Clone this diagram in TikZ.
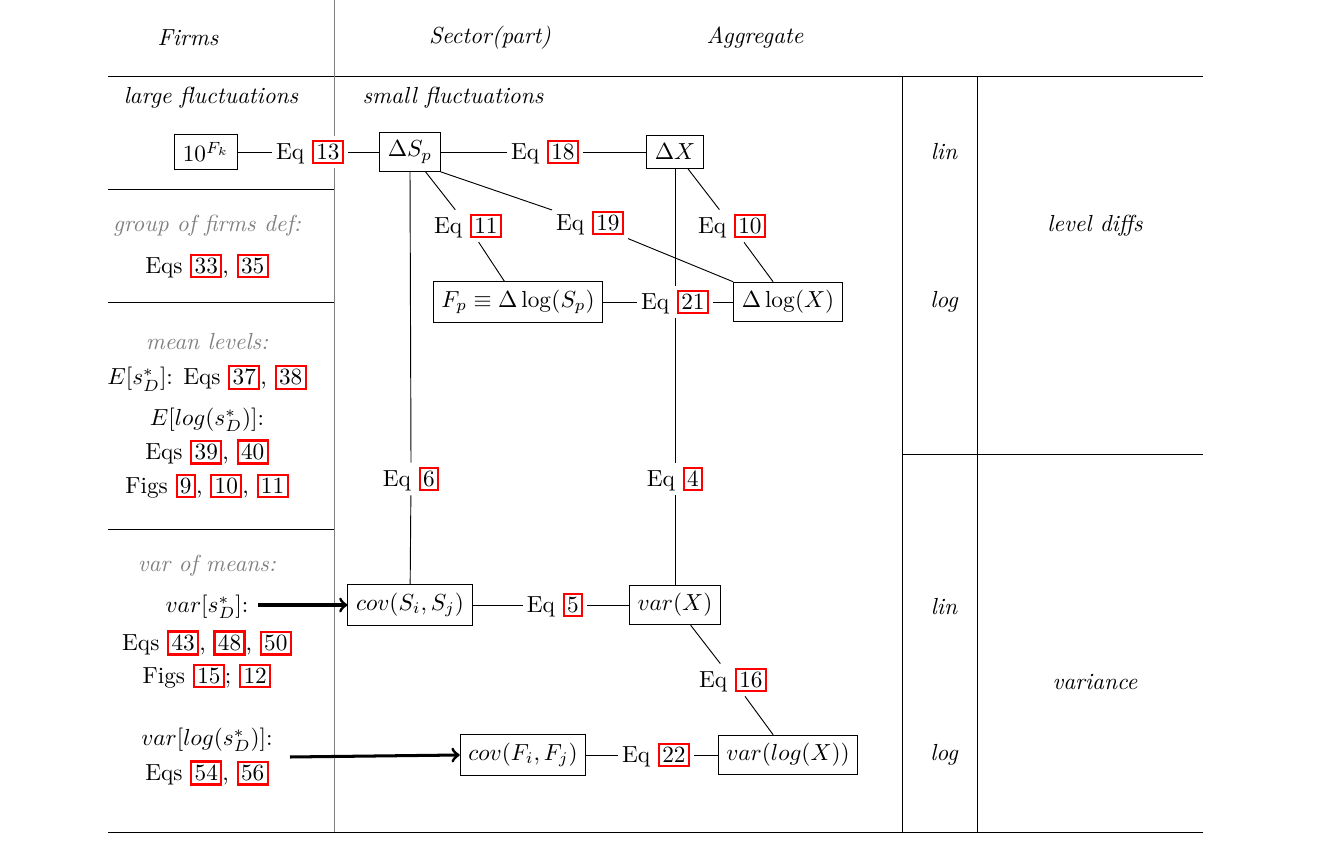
\documentclass[tikz,border=0pt]{standalone}
\usepackage{amsmath}
\newcommand\rb[1]{{\setlength\fboxsep{1pt}\setlength\fboxrule{0.9pt}\fcolorbox{red}{white}{#1}}}
\begin{document}
\begin{tikzpicture}[x=0.43pt,y=-0.43pt,
  bx/.style={draw,line width=0.4pt,inner sep=3.5pt},
  lb/.style={inner sep=1.5pt,fill=white},
  tx/.style={inner sep=1pt,align=center},
  gt/.style={tx,text=gray,font=\itshape},
  ln/.style={line width=0.4pt}]
\useasboundingbox (0,0) rectangle (1319,846);
% grid
\draw[ln] (108,76) -- (1203,76);
\draw[ln] (108,832) -- (1203,832);
\draw[ln] (108,189) -- (334,189);
\draw[ln] (108,302) -- (334,302);
\draw[ln] (108,529) -- (334,529);
\draw[ln] (902,454) -- (1203,454);
\draw[ln] (902,76) -- (902,832);
\draw[ln] (977,76) -- (977,832);
\draw[ln,gray] (334,0) -- (334,832);
% headers
\node[tx,font=\itshape] (h1) at (188,38) {Firms};
\node[tx,font=\itshape] (h2) at (490,38) {Sector(part)};
\node[tx,font=\itshape] (h3) at (755,38) {Aggregate};
\node[tx,font=\itshape] (lf) at (211,98) {large fluctuations};
\node[tx,font=\itshape] (sf) at (453,98) {small fluctuations};
\node[tx,font=\itshape] (r1) at (944,152) {lin};
\node[tx,font=\itshape] (r2) at (944,302) {log};
\node[tx,font=\itshape] (r3) at (944,607) {lin};
\node[tx,font=\itshape] (r4) at (944,755) {log};
\node[tx,font=\itshape] (ld) at (1095,226) {level diffs};
\node[tx,font=\itshape] (va) at (1095,682) {variance};
% left column
\node[gt] (g1) at (207,226) {group of firms def:};
\node[tx] (g2) at (207,266) {Eqs \rb{33}, \rb{35}};
\node[gt] (m1) at (207,342) {mean levels:};
\node[tx] (m2) at (207,378) {$E[s_D^*]$: Eqs \rb{37}, \rb{38}};
\node[tx] (m3) at (207,420) {$E[log(s_D^*)]$:};
\node[tx] (m4) at (207,452) {Eqs \rb{39}, \rb{40}};
\node[tx] (m5) at (207,486) {Figs \rb{9}, \rb{10}, \rb{11}};
\node[gt] (v1) at (207,566) {var of means:};
\node[tx] (v2) at (207,607) {$var[s_D^*]$:};
\node[tx] (v3) at (207,643) {Eqs \rb{43}, \rb{48}, \rb{50}};
\node[tx] (v4) at (207,676) {Figs \rb{15}; \rb{12}};
\node[tx] (v5) at (207,740) {$var[log(s_D^*)]$:};
\node[tx] (v6) at (207,773) {Eqs \rb{54}, \rb{56}};
% main nodes
\node[bx] (tf) at (206,152) {$10^{F_k}$};
\node[lb] (e13) at (310,152) {Eq \rb{13}};
\node[bx] (ds) at (410,152) {$\Delta S_p$};
\node[lb] (e18) at (545,152) {Eq \rb{18}};
\node[bx] (dx) at (675,152) {$\Delta X$};
\node[lb] (e11) at (468,226) {Eq \rb{11}};
\node[lb] (e19) at (590,223) {Eq \rb{19}};
\node[lb] (e10) at (732,226) {Eq \rb{10}};
\node[bx] (fp) at (518,302) {$F_p\equiv\Delta\log(S_p)$};
\node[lb] (e21) at (675,302) {Eq \rb{21}};
\node[bx] (dl) at (788,302) {$\Delta\log(X)$};
\node[lb] (e6) at (411,479) {Eq \rb{6}};
\node[lb] (e4) at (675,479) {Eq \rb{4}};
\node[bx] (cs) at (410,605) {$cov(S_i,S_j)$};
\node[lb] (e5) at (555,605) {Eq \rb{5}};
\node[bx] (vx) at (675,605) {$var(X)$};
\node[lb] (e16) at (733,680) {Eq \rb{16}};
\node[bx] (cf) at (523,755) {$cov(F_i,F_j)$};
\node[lb] (e22) at (656,755) {Eq \rb{22}};
\node[bx] (vl) at (788,755) {$var(log(X))$};
% connectors
\draw[ln] (tf) -- (e13) -- (ds) -- (e18) -- (dx);
\draw[ln] (ds) -- (e11) -- (fp);
\draw[ln] (ds.south east) -- (e19) -- (dl.north west);
\draw[ln] (dx) -- (e10) -- (dl);
\draw[ln] (fp) -- (e21) -- (dl);
\draw[ln] (dx.south) -- (e21.north);
\draw[ln] (e21.south) -- (e4.north);
\draw[ln] (e4) -- (vx);
\draw[ln] (ds.south) -- (e6.north);
\draw[ln] (e6) -- (cs);
\draw[ln] (cs) -- (e5) -- (vx);
\draw[ln] (vx) -- (e16) -- (vl);
\draw[ln] (cf) -- (e22) -- (vl);
\coordinate (a1) at (258,605);
\coordinate (a2) at (290,757);
\draw[line width=1.3pt,->] (a1) -- (cs.west);
\draw[line width=1.3pt,->] (a2) -- (cf.west);
\end{tikzpicture}
\end{document}
